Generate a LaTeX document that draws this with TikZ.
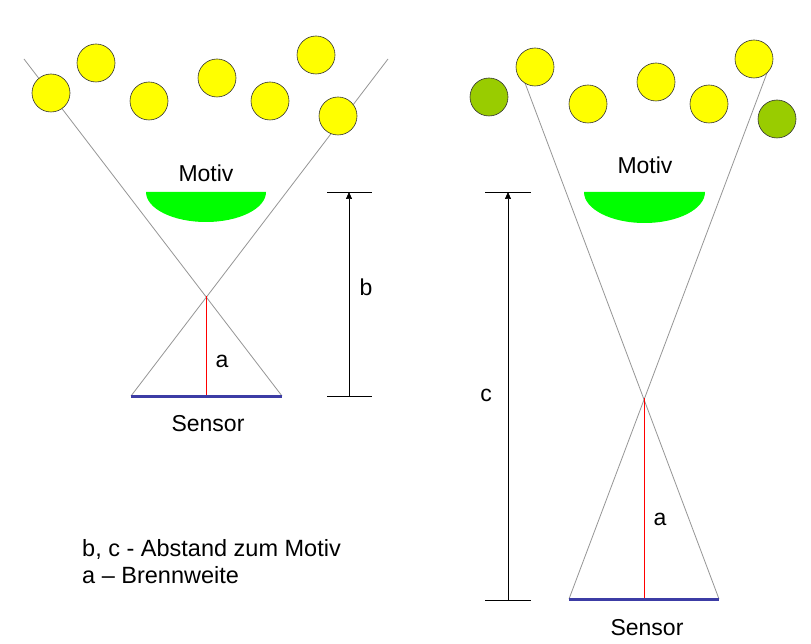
\documentclass[tikz,border=0pt]{standalone}
\usepackage{fontspec}
\setmainfont{Liberation Sans}
\usetikzlibrary{arrows.meta}
\definecolor{ray}{RGB}{150,150,150}
\definecolor{sensorblue}{RGB}{60,60,165}
\definecolor{ballyellow}{RGB}{255,255,0}
\definecolor{ballgreen}{RGB}{153,204,0}
\definecolor{motivgreen}{RGB}{0,255,0}
\tikzset{
  raystyle/.style={draw=ray,line width=0.8pt},
  ball/.style={circle,draw=black!80,line width=0.6pt,fill=ballyellow,minimum size=38pt,inner sep=0pt},
  greenball/.style={ball,fill=ballgreen},
  sensorline/.style={draw=sensorblue,line width=3pt},
  focal/.style={draw=red,line width=0.8pt},
  tick/.style={draw=black,line width=0.7pt},
  dimarrow/.style={draw=black,line width=0.7pt,-{Triangle[length=7pt,width=6pt]}},
  lbl/.style={inner sep=0pt,anchor=base,font=\fontsize{23}{27}\selectfont},
  legend/.style={inner sep=0pt,anchor=base west,font=\fontsize{23.5}{27}\selectfont}
}
\begin{document}
\begin{tikzpicture}[x=1pt,y=-1pt]
\useasboundingbox (0,0) rectangle (811,644);
\fill[white] (0,0) rectangle (811,644);
% ---------- left diagram ----------
\coordinate (LtopL) at (24,59);
\coordinate (LtopR) at (388,59);
\coordinate (LX) at (206,296);
\coordinate (LS1) at (131,396);
\coordinate (LS2) at (282,396);
\coordinate (LF) at (206,396);
\draw[raystyle] (LtopL) -- (LS2);
\draw[raystyle] (LtopR) -- (LS1);
\fill[motivgreen] (146,192) arc[start angle=180,end angle=360,x radius=60pt,y radius=30pt] -- cycle;
\node[ball] (l1) at (51,93) {};
\node[ball] (l2) at (96,63) {};
\node[ball] (l3) at (149,101) {};
\node[ball] (l4) at (217,78) {};
\node[ball] (l5) at (270,101) {};
\node[ball] (l6) at (316,55) {};
\node[ball] (l7) at (338,116) {};
\draw[focal] (LX) -- (LF);
\draw[sensorline] (LS1) -- (LS2);
\node[lbl] (motivL) at (206,182) {Motiv};
\node[lbl] (aL) at (222,367) {a};
\node[lbl] (sensorL) at (208,431) {Sensor};
% dimension b
\coordinate (bT1) at (327,192); \coordinate (bT2) at (372,192);
\coordinate (bB1) at (327,396); \coordinate (bB2) at (372,396);
\coordinate (bT) at (349,192); \coordinate (bB) at (349,396);
\draw[tick] (bT1) -- (bT2);
\draw[tick] (bB1) -- (bB2);
\draw[dimarrow] (bB) -- (bT);
\node[lbl] (bl) at (366,295) {b};
% ---------- right diagram ----------
\coordinate (RtopL) at (519,67);
\coordinate (RtopR) at (770,65);
\coordinate (RX) at (644,398);
\coordinate (RS1) at (569,599);
\coordinate (RS2) at (719,599);
\coordinate (RF) at (644,599);
\draw[raystyle] (RtopL) -- (RS2);
\draw[raystyle] (RtopR) -- (RS1);
\fill[motivgreen] (584,192) arc[start angle=180,end angle=360,x radius=60.5pt,y radius=31pt] -- cycle;
\node[greenball] (r1) at (489,97) {};
\node[ball] (r2) at (535,67) {};
\node[ball] (r3) at (588,104) {};
\node[ball] (r4) at (656,82) {};
\node[ball] (r5) at (709,104) {};
\node[ball] (r6) at (754,59) {};
\node[greenball] (r7) at (777,119) {};
\draw[focal] (RX) -- (RF);
\draw[sensorline] (RS1) -- (RS2);
\node[lbl] (motivR) at (645,174) {Motiv};
\node[lbl] (aR) at (660,525) {a};
\node[lbl] (sensorR) at (647,635) {Sensor};
% dimension c
\coordinate (cT1) at (485,192); \coordinate (cT2) at (531,192);
\coordinate (cB1) at (485,600); \coordinate (cB2) at (531,600);
\coordinate (cT) at (508,192); \coordinate (cB) at (508,600);
\draw[tick] (cT1) -- (cT2);
\draw[tick] (cB1) -- (cB2);
\draw[dimarrow] (cB) -- (cT);
\node[lbl] (cl) at (486,401) {c};
% ---------- legend ----------
\node[legend] (leg1) at (82,556) {b, c - Abstand zum Motiv};
\node[legend] (leg2) at (82,583) {a – Brennweite};
\end{tikzpicture}
\end{document}
